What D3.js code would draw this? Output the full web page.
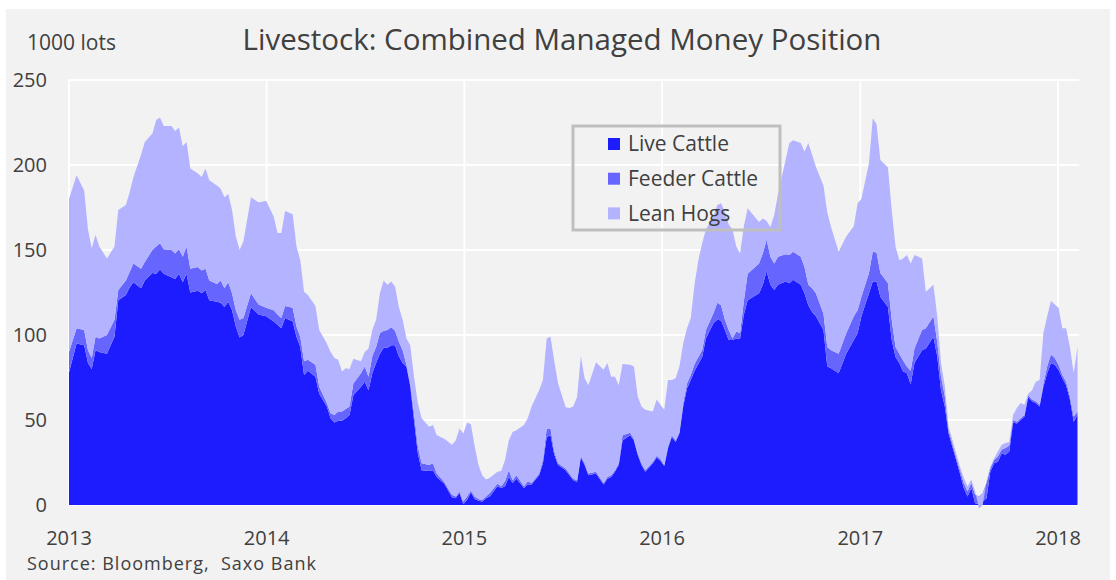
<!DOCTYPE html>
<html><head><meta charset="utf-8">
<script src="https://cdn.jsdelivr.net/npm/d3@7"></script>
<style>
body{margin:0;background:#fff;}
text{font-family:"Open Sans",sans-serif;fill:#404040;}
</style>
</head><body><svg id="c" width="1116" height="580"></svg>
<script>
// Weeks since Tuesday 2013-01-01 (weekly COT reports)
const weeks = [
0,2,4,5,6,7,8,10,12,13,
15,16,17,19,20,22,23,24,25,27,
28,29,30,31,32,34,35,36,37,39,
40,41,42,43,44,45,46,48,50,52,
54,55,56,57,59,60,61,62,63,65,
66,68,69,70,71,72,73,74,75,77,
78,79,80,81,82,83,84,85,86,87,
88,89,90,91,92,93,95,96,97,99,
101,102,103,104,105,106,107,108,109,110,
111,113,114,115,116,117,118,120,121,122,
124,125,126,127,128,129,131,132,133,134,
135,136,137,139,141,142,143,144,145,146,
148,149,150,151,152,154,155,156,157,158,
159,160,161,162,163,164,165,166,167,168,
170,171,172,173,174,175,176,177,178,179,
182,183,184,185,186,187,189,190,191,193,
194,195,196,197,199,200,201,203,205,207,
208,209,211,212,213,214,216,217,218,219,
220,221,222,223,225,226,228,229,230,231,
232,234,235,236,237,238,239,240,241,242,
243,244,245,246,247,248,249,250,251,252,
253,254,255,256,257,258,259,260,261,262,
263,264,265,266];

const liveCattle = [
78,95,94,83.5,80,91,90,89,99,120.5,
123.5,128,131,127.5,132,136.5,136,138.5,136,134,
133,136,131,136,125,126,124.5,126.5,120.5,119.5,
119,116.5,119.5,114.5,105,98.5,100,116.5,112,111,
108,106,104,110,108,99,93,76.5,79,75.5,
65.5,58,51,48.5,49.5,49.5,51,53,64.5,69.5,
72.5,67.5,77.5,83.5,89,92.5,92.5,94,94,87.5,
83.5,81.5,70,50,30.5,20.5,20,20.5,16.5,12.5,
4.5,4,7,0.5,3,7.5,3.5,2.5,2,4,
5,11,10,11,16.5,13,15.5,10,12,12,
17.5,24.5,40,41,29.5,23.5,20.5,17.5,14.5,13.5,
28,23.5,17.5,18.5,12,15.5,16.5,19.5,23.5,38,
41,38,29.5,23.5,19.5,24.5,28,26,23,33.5,
40,37,42,58,68.5,73.5,79,83,87,98,
107,109,108.5,103,97,97,98,98,112,120.5,
124.5,129.5,137.5,129.5,126.5,129.5,131.5,130.5,132.5,129.5,
124.5,117.5,113.5,111,103,81.5,80.5,77.5,89,97,
101,111,124.5,131.5,131.5,122.5,116.5,97,87,83.5,
78.5,77.5,71,83.5,91,92,99,87.5,67.5,58,
42,26.5,18.5,10,5,10,1,0.5,2,4,
19.5,24.5,25.5,30.5,29.5,31.5,48.5,48,50,52,
63.5,61,60,58,69.5,77.5,83.5,82.5,79.5,74.5,
70.5,62,49,53];

const feederCattle = [
12,9,9,7.5,6.5,8,8,11,10,6,
8.5,9,11,11.5,11,13.5,16,15.5,14.5,16,
15,14.5,15,16,14,14,13.5,12.5,11.5,10.5,
13,11,11.5,10,9.5,10.5,10,8,6,5,
6.5,6,6,7,8,6,6,8,6.5,7,
4,2,3,4.5,5.5,5.5,5.5,5,7,8,
9,8,10,9.5,12,10,10.5,10.5,8.5,8.5,
7.5,1,1.5,4,4,4,3.5,4,2,1,
1.5,1,1,1.5,2,1,1.5,1,1,1,
2,1.5,1,3,4,1.5,2,1,2,1,
1,2,5,4,2,1,1,1,1,1,
1,1,1,1,1,1,1,1,1,3,
1.5,1,1,1,1,1,1,1,0.5,1,
1,1,1,2,3,3,4,4,4,5,
6,10,9,6,6,1,4,3,8,15.5,
17.5,18.5,18.5,16.5,15.5,16.5,16,16.5,16.5,16.5,
15.5,12,14,13.5,9.5,11.5,10.5,11.5,12,14,
13.5,11.5,12,17.5,17,14,14,12,6,5.5,
6.5,4,8,8.5,12,12,12,8.5,8,6,
2,1.5,2,3,3,3,5,4.5,5,9,
2,2,3,2,4,3.5,1.5,1,1,1,
1,1,1,1,2,4,5,4,3,2,
2,2,3,2];

const leanHogs = [
90,90,82,71,64.5,60,54,45,43,47,
44.5,47,51,67,70.5,68.5,74.5,74,72.5,73,
72,71.5,65,61.5,59,55,55,59,59,58,
54,53.5,52,49,43.5,41,45,56.5,60,63,
55,48,50,56,55,47,45,41,38,34.5,
33.5,35,36,33.5,30.5,23.5,24,22,14.5,7,
8.5,16.5,15.5,16,23.5,29.5,26.5,27,26,20.5,
18,15.5,22.5,21.5,25.5,26.5,22.5,22.5,22.5,25.5,
29.5,33,37,40,43.5,39,29.5,20,14.5,10,
9,7,9,12.5,17.5,28.5,26.5,36,37,45,
49,47,53,54,53,47,36,38.5,42.5,49,
58.5,50,52,64.5,66.5,67,58,55,46,42,
40,42.5,33.5,33.5,35.5,29.5,33,32,32.5,39,
32.5,36.5,38.5,35,32.5,33.5,47,57,63,59,
57,57.5,60,63,62,64,50,47,44,38.5,
24.5,20.5,11,17.5,28.5,37,55.5,66,65.5,67,
68,83.5,78.5,74.5,75.5,79,72.5,60,57,53,
63,57.5,64.5,78.5,75.5,66.5,68,64.5,59,55,
60,65.5,63,55,42,21.5,18.5,15,8,6,
2,2.5,2,3,3,2,2,-7,-7,1,
1,1,3,3,3,2,3,8,9,6,
1,5.5,11.5,14.5,29.5,29.5,31.5,31.5,33.5,27.5,
31.5,29,25.5,38];

const seriesNames = ["Live Cattle","Feeder Cattle","Lean Hogs"];
const seriesColors = ["#1c1cff","#6666ff","#b3b3ff"];
const yTicks = [0,50,100,150,200,250];
const yearTicks = [2013,2014,2015,2016,2017,2018];
const titleText = "Livestock: Combined Managed Money Position";
const unitText = "1000 lots";
const sourceText = "Source: Bloomberg,  Saxo Bank";

const svg = d3.select("#c");
const W = 1116, H = 580;
const start = new Date(2013,0,1);
const n = Math.min(weeks.length, liveCattle.length, feederCattle.length, leanHogs.length);
const rows = d3.range(n).map(i => ({
  date: d3.timeDay.offset(start, weeks[i]*7),
  "Live Cattle": liveCattle[i],
  "Feeder Cattle": feederCattle[i],
  "Lean Hogs": leanHogs[i]
}));

// panel background
svg.append("rect").attr("x",6).attr("y",9).attr("width",W-12).attr("height",H-9).attr("fill","#f2f2f2");

const plotL = 69, plotR = 1079, plotT = 80, plotB = 505;
const x = d3.scaleTime().domain([new Date(2013,0,1), new Date(2018,0,1)]).range([plotL, 1058]);
const y = d3.scaleLinear().domain([0,250]).range([plotB, plotT]);

// gridlines
const g = svg.append("g");
g.selectAll("line.h").data(yTicks).join("line")
  .attr("x1",plotL).attr("x2",plotR).attr("y1",d=>y(d)).attr("y2",d=>y(d))
  .attr("stroke","#ffffff").attr("stroke-width",2);
g.selectAll("line.v").data(yearTicks).join("line")
  .attr("x1",d=>x(new Date(d,0,1))).attr("x2",d=>x(new Date(d,0,1)))
  .attr("y1",plotT).attr("y2",plotB)
  .attr("stroke","#ffffff").attr("stroke-width",2);

// stacked areas
const stack = d3.stack().keys(seriesNames);
const layers = stack(rows);
const area = d3.area().x(d=>x(d.data.date)).y0(d=>y(d[0])).y1(d=>y(d[1]));
svg.append("g").selectAll("path").data(layers).join("path")
  .attr("d", area).attr("fill",(d,i)=>seriesColors[i]);

// y labels
svg.append("g").selectAll("text").data(yTicks).join("text")
  .attr("x",47).attr("y",d=>y(d)).attr("dy","0.35em")
  .attr("text-anchor","end").attr("font-size",20).text(d=>d);

// x labels
svg.append("g").selectAll("text").data(yearTicks).join("text")
  .attr("x",d=>x(new Date(d,0,1))).attr("y",545)
  .attr("text-anchor","middle").attr("font-size",20).text(d=>d);

// title, unit, source
svg.append("text").attr("x",562).attr("y",50).attr("text-anchor","middle")
  .attr("font-size",29.5).text(titleText);
svg.append("text").attr("x",27).attr("y",50).attr("font-size",21).text(unitText);
svg.append("text").attr("x",27).attr("y",570).attr("font-size",18)
  .attr("letter-spacing","1px").style("white-space","pre").text(sourceText);

// legend
const lg = svg.append("g");
lg.append("rect").attr("x",573).attr("y",126).attr("width",207).attr("height",104)
  .attr("fill","none").attr("stroke","#bfbfbf").attr("stroke-width",3);
seriesNames.forEach((s,i)=>{
  const cy = 144 + i*34.7;
  lg.append("rect").attr("x",608).attr("y",cy-6).attr("width",12).attr("height",12).attr("fill",seriesColors[i]);
  lg.append("text").attr("x",628).attr("y",cy).attr("dy","0.35em").attr("font-size",21).text(s);
});
</script></body></html>
